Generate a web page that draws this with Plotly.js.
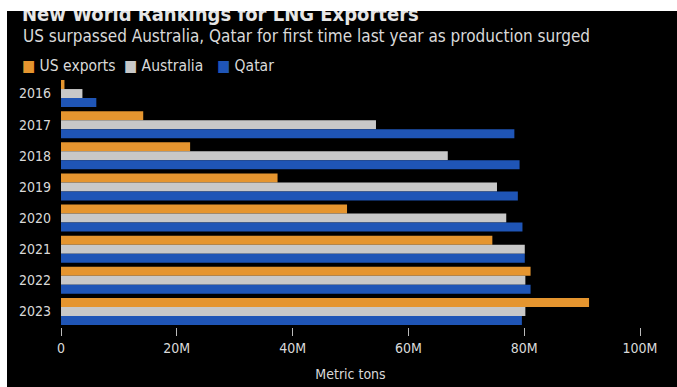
<!DOCTYPE html>
<html>
<head>
<meta charset="utf-8">
<script src="https://cdn.plot.ly/plotly-3.0.1.min.js"></script>
<style>
  html, body { margin: 0; padding: 0; background: #fff; }
  #wrap { position: relative; width: 677px; height: 387px; overflow: hidden; }
  #chart { position: absolute; left: 0; top: 0; width: 677px; height: 387px; }
  .strip { position: absolute; background: #fff; z-index: 10; }
</style>
</head>
<body>
<div id="wrap">
  <div id="chart"></div>
  <div class="strip" style="left:0;top:0;width:677px;height:11px;"></div>
  <div class="strip" style="left:0;top:0;width:7px;height:387px;"></div>
</div>
<script>
const years = ['2016', '2017', '2018', '2019', '2020', '2021', '2022', '2023'];
const usExports = [0.6e6, 14.2e6, 22.3e6, 37.4e6, 49.4e6, 74.5e6, 81.1e6, 91.2e6];
const australia = [3.7e6, 54.4e6, 66.8e6, 75.3e6, 76.9e6, 80.1e6, 80.2e6, 80.2e6];
const qatar = [6.1e6, 78.3e6, 79.2e6, 78.9e6, 79.7e6, 80.1e6, 81.1e6, 79.6e6];
const seriesNames = ['US exports', 'Australia', 'Qatar'];
const seriesColors = ['#e5952f', '#c8c8c8', '#1f55b6'];
const xTickVals = [0, 20e6, 40e6, 60e6, 80e6, 100e6];
const xTickText = ['0', '20M', '40M', '60M', '80M', '100M'];

const FONT = '"DejaVu Sans Condensed", "Liberation Sans Narrow", "DejaVu Sans", sans-serif';
const W = 677, H = 387;
const M = { l: 61, r: 37, t: 78, b: 60 };
const PW = W - M.l - M.r, PH = H - M.t - M.b;
const px2x = px => (px - M.l) / PW;
const py2y = py => 1 - (py - M.t) / PH;

const traces = [usExports, australia, qatar].map((vals, i) => ({
  type: 'bar',
  orientation: 'h',
  name: seriesNames[i],
  y: years,
  x: vals,
  marker: { color: seriesColors[i], line: { width: 0 } },
  hoverinfo: 'x+name'
}));

// legend entries as annotations (colored square + name)
const legendLeft = [20, 122, 215];
const legendAnnots = seriesNames.map((n, i) => ({
  text: '<span style="color:' + seriesColors[i] + '">■</span> ' + n,
  xref: 'paper', yref: 'paper',
  x: px2x(legendLeft[i]), xanchor: 'left',
  y: py2y(66), yanchor: 'middle',
  showarrow: false,
  font: { family: FONT, size: 15.5, color: '#d9d9d9' }
}));

const layout = {
  width: W,
  height: H,
  paper_bgcolor: '#000',
  plot_bgcolor: '#000',
  margin: { l: M.l, r: M.r, t: M.t, b: M.b, pad: 0 },
  barmode: 'group',
  bargap: 0.13,
  bargroupgap: 0,
  font: { family: FONT, color: '#d9d9d9', size: 14 },
  title: {
    text: '<b>New World Rankings for LNG Exporters</b>',
    font: { family: FONT, size: 20, color: '#e6e6e6' },
    xref: 'container', yref: 'container',
    x: 22 / W, xanchor: 'left',
    y: 1 - 21 / H, yanchor: 'bottom'
  },
  annotations: [{
    text: 'US surpassed Australia, Qatar for first time last year as production surged',
    xref: 'paper', yref: 'paper',
    x: px2x(21), xanchor: 'left',
    y: py2y(36), yanchor: 'middle',
    showarrow: false,
    font: { family: FONT, size: 17, color: '#d9d9d9' }
  }].concat(legendAnnots),
  showlegend: false,
  xaxis: {
    range: [0, 100e6],
    tickvals: xTickVals,
    ticktext: xTickText,
    ticks: 'outside',
    ticklen: 8,
    tickcolor: '#bbbbbb',
    tickwidth: 1,
    showgrid: false,
    zeroline: false,
    showline: false,
    automargin: false,
    tickfont: { family: FONT, size: 14, color: '#d9d9d9' },
    title: { text: 'Metric tons', font: { family: FONT, size: 14, color: '#d9d9d9' }, standoff: 14 },
    fixedrange: true
  },
  yaxis: {
    autorange: 'reversed',
    type: 'category',
    ticks: '',
    showgrid: false,
    zeroline: false,
    showline: false,
    automargin: false,
    ticklabelstandoff: 9,
    tickfont: { family: FONT, size: 14, color: '#d9d9d9' },
    fixedrange: true
  }
};

Plotly.newPlot('chart', traces, layout, { displayModeBar: false, staticPlot: true });
</script>
</body>
</html>
